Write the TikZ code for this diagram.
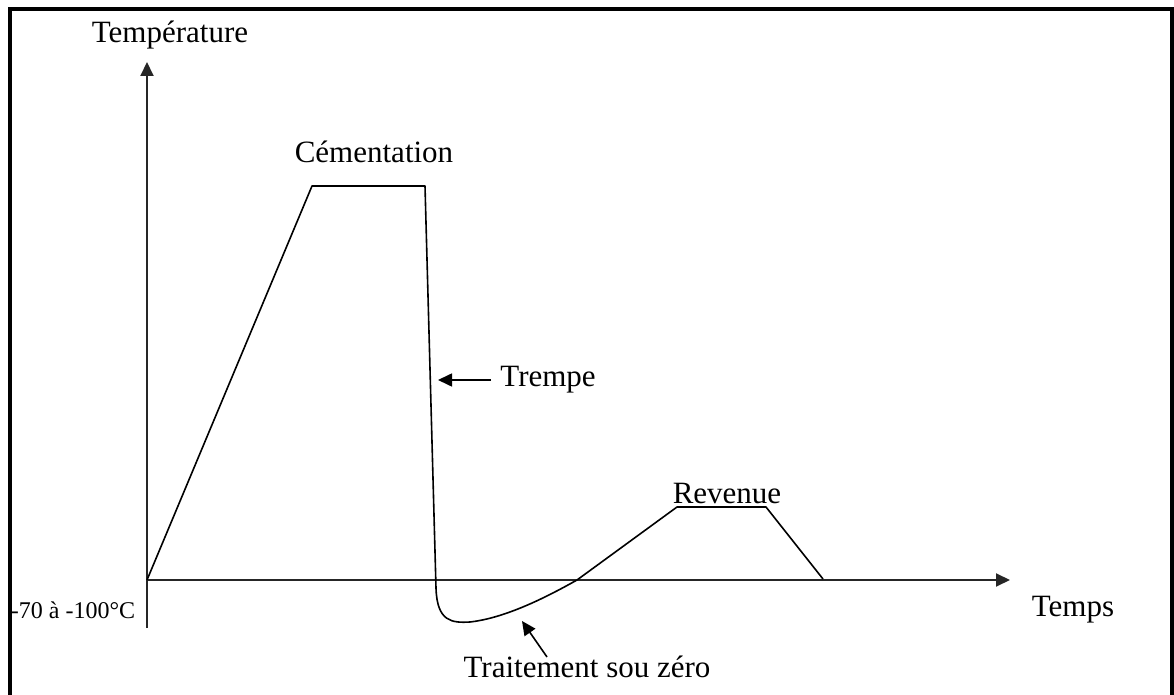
\documentclass[tikz,border=0pt]{standalone}
\usepackage{fontspec}
\setmainfont{Liberation Serif}
\usetikzlibrary{arrows.meta,positioning}

\begin{document}
\begin{tikzpicture}[x=0.5pt,y=-0.5pt,>={Triangle[length=7pt,width=6.5pt]},
  lbl/.style={inner sep=0pt,font=\fontsize{15.5}{18}\selectfont},
  small/.style={inner sep=0pt,font=\fontsize{12}{14}\selectfont},
  ax/.style={line width=1pt,black!85},
  crv/.style={line width=0.8pt,line join=round},
  arr/.style={->,line width=0.8pt}]
\useasboundingbox (0,0) rectangle (1174,695);
% frame
\draw[line width=1.6pt] (10,700) -- (10,9) -- (1172,9) -- (1172,700);
% axes
\coordinate (O) at (147,580);
\coordinate (ybot) at (147,628);
\coordinate (ytop) at (147,62);
\coordinate (xend) at (1010,580);
\draw[ax] (ybot) -- (O);
\draw[ax,->] (O) -- (ytop);
\draw[ax,->] (O) -- (xend);
% labels
\node[lbl] (temp) at (170,35) {Température};
\node[lbl] (temps) at (1073,610) {Temps};
\node[small] (zero) at (73,610) {-70 à -100°C};
\node[lbl] (cem) at (374,152) {Cémentation};
\node[lbl] (rev) at (727,494) {Revenue};
\node[lbl,anchor=west] (trempe) at (500,380) {Trempe};
\node[lbl] (sz) at (587,667) {Traitement sou zéro};
% cycle
\coordinate (c1) at (312,186);
\coordinate (c2) at (425,186);
\coordinate (q) at (436,588);
\coordinate (low) at (470,622);
\coordinate (cut) at (577,580);
\coordinate (r1) at (677,507);
\coordinate (r2) at (766,507);
\coordinate (r3) at (823,579);
\draw[crv] (O) -- (c1) -- (c2) -- (q)
  .. controls (437,622) and (452,623) .. (low)
  .. controls (505,618) and (545,598) .. (cut)
  -- (r1) -- (r2) -- (r3);
% pointers
\coordinate (tq) at (438,380);
\coordinate (tz) at (522,621);
\draw[arr] (trempe.west) ++(-9,0) -- (tq);
\draw[arr] (547,657) -- (tz);
\end{tikzpicture}
\end{document}
